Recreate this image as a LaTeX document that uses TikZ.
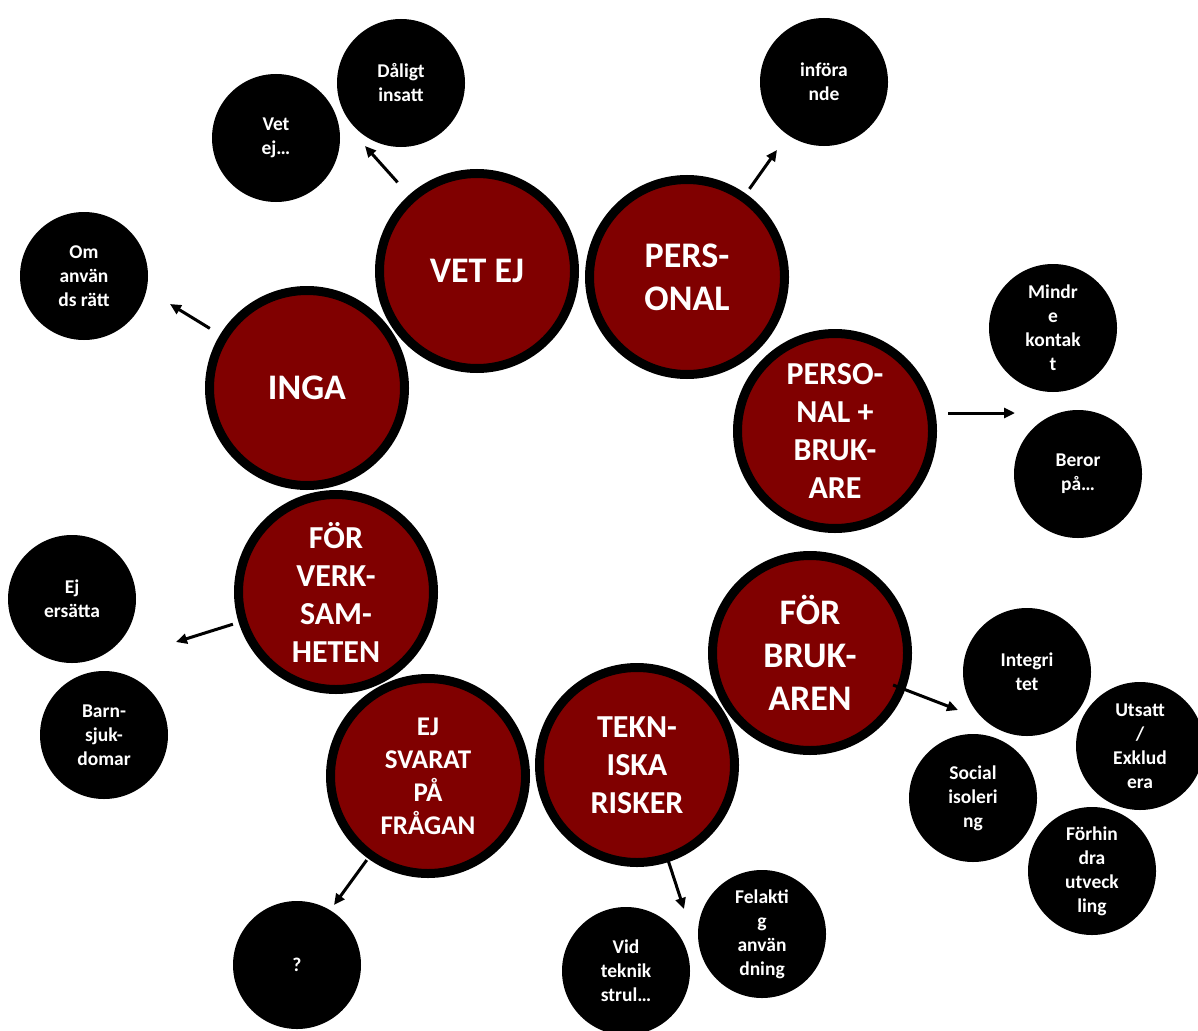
\documentclass[tikz,border=0pt]{standalone}
\usepackage{fontspec}
\setmainfont{Carlito}
\usetikzlibrary{arrows.meta}
\definecolor{maroonfill}{RGB}{128,0,0}
\begin{document}
\begin{tikzpicture}[x=1pt,y=-1pt,
  topic/.style={circle, draw=black, line width=9pt, fill=maroonfill,
    minimum size=195pt, inner sep=0pt, text=white, align=center,
    font=\bfseries\fontsize{32}{38}\selectfont},
  bigtopic/.style={topic, font=\bfseries\fontsize{36}{43}\selectfont},
  smalltopic/.style={topic, font=\bfseries\fontsize{27}{33}\selectfont},
  leaf/.style={circle, fill=black, minimum size=128pt, inner sep=0pt,
    text=white, align=center, font=\bfseries\fontsize{19.5}{24}\selectfont},
  arr/.style={line width=3pt, -{Triangle[length=11pt,width=10pt]}}]
\clip (0,0) rectangle (1198,1030);
\fill[white] (0,0) rectangle (1198,1030);

% main categories
\node[bigtopic] (vetej) at (477,271) {VET EJ};
\node[bigtopic] (pers) at (687,277) {PERS-\\ONAL};
\node[bigtopic] (inga) at (307,388) {INGA};
\node[topic] (pb) at (835,431) {PERSO-\\NAL +\\BRUK-\\ARE};
\node[topic] (verk) at (336,592) {FÖR\\VERK-\\SAM-\\HETEN};
\node[bigtopic] (fb) at (810,653) {FÖR\\BRUK-\\AREN};
\node[smalltopic] (svarat) at (428,776) {EJ\\SVARAT\\PÅ\\FRÅGAN};
\node[topic] (tekn) at (637,765) {TEKN-\\ISKA\\RISKER};

% answers
\node[leaf] (daligt) at (401,83) {Dåligt\\insatt};
\node[leaf] (vetej2) at (276,138) {Vet\\ej…};
\node[leaf] (inforande) at (824,82) {införa\\nde};
\node[leaf] (omanv) at (84,276) {Om\\använ\\ds rätt};
\node[leaf] (mindre) at (1053,328) {Mindr\\e\\kontak\\t};
\node[leaf] (beror) at (1078,474) {Beror\\på…};
\node[leaf] (ersatta) at (72,599) {Ej\\ersätta};
\node[leaf] (barn) at (104,735) {Barn-\\sjuk-\\domar};
\node[leaf] (fraga) at (297,965) {?};
\node[leaf] (strul) at (626,971) {Vid\\teknik\\strul…};
\node[leaf] (felaktig) at (762,934) {Felakti\\g\\använ\\dning};
\node[leaf] (integ) at (1027,672) {Integri\\tet};
\node[leaf] (utsatt) at (1140,746) {Utsatt\\/\\Exklud\\era};
\node[leaf] (social) at (973,798) {Social\\isoleri\\ng};
\node[leaf] (forhindra) at (1092,871) {Förhin\\dra\\utveck\\ling};

% arrow targets
\coordinate (t1) at (365,146);
\coordinate (t2) at (777,150);
\coordinate (t3) at (170,304);
\coordinate (t4) at (1015,413);
\coordinate (t5) at (176,642);
\coordinate (t6) at (958,710);
\coordinate (t7) at (334,905);
\coordinate (t8) at (684,909);

\draw[arr, shorten <=17pt] (vetej) -- (t1);
\draw[arr, shorten <=6pt] (pers) -- (t2);
\draw[arr, shorten <=12pt] (inga) -- (t3);
\draw[arr, shorten <=11pt] (pb.east |- t4) -- (t4);
\draw[arr, shorten <=6pt] (verk) -- (t5);
\draw[arr, shorten <=-13pt] (fb) -- (t6);
\draw[arr, shorten <=2pt] (svarat) -- (t7);
\draw[arr, shorten <=-3pt] (tekn) -- (t8);
\end{tikzpicture}
\end{document}
